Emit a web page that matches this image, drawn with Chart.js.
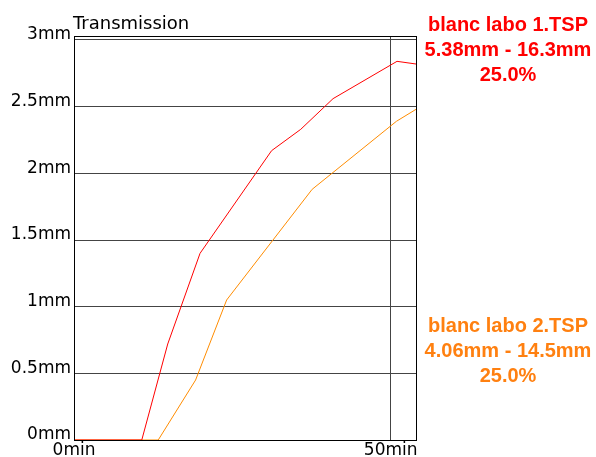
<!DOCTYPE html>
<html>
<head>
<meta charset="utf-8">
<script src="https://cdn.jsdelivr.net/npm/chart.js@4/dist/chart.umd.min.js"></script>
<style>
	html, body { margin: 0; padding: 0; background: #fff; }
	canvas { display: block; }
</style>
</head>
<body>
<canvas id="chart" width="596" height="457"></canvas>
<script>
/*
 * Values: time in minutes, transmission in mm.
 */
const redTimes = [0, 10.7, 14.8, 19.9, 31.2, 35.8, 40.9, 51.0, 54.0];
const redValues = [0, 0, 0.72, 1.40, 2.17, 2.33, 2.56, 2.84, 2.82];
const orangeTimes = [0, 13.3, 19.2, 24.1, 37.6, 50.9, 54.0];
const orangeValues = [0, 0, 0.45, 1.05, 1.88, 2.39, 2.48];

const xTicks = [0, 50];
const yTicks = [0, 0.5, 1, 1.5, 2, 2.5, 3];

const redLegend = ['blanc labo 1.TSP', '5.38mm - 16.3mm', '25.0%'];
const orangeLegend = ['blanc labo 2.TSP', '4.06mm - 14.5mm', '25.0%'];

const chartTitle = 'Transmission';

const RED = '#ff0000';
const ORANGE = '#ff8c00';
const ORANGE_TEXT = '#ff8010';

function points(xs, ys)
{
	return xs.map((x, i) => ({ x: x, y: ys[i] }));
}

/*
 * Frame around the plot, the title and the two text blocks on the right.
 */
const decorations = {
	id: 'decorations',
	afterDraw(chart) {
		const ctx = chart.ctx;
		const area = chart.chartArea;
		ctx.save();
		ctx.strokeStyle = '#000';
		ctx.lineWidth = 1;
		ctx.strokeRect(Math.round(area.left) + 0.5, Math.round(area.top) + 0.5,
			Math.round(area.right - area.left), Math.round(area.bottom - area.top));

		ctx.fillStyle = '#000';
		ctx.font = '18px "DejaVu Sans"';
		ctx.textAlign = 'left';
		ctx.textBaseline = 'alphabetic';
		ctx.fillText(chartTitle, 73, 29);

		ctx.font = 'bold 20px "Liberation Sans"';
		ctx.textAlign = 'center';
		ctx.fillStyle = RED;
		redLegend.forEach((t, i) => ctx.fillText(t, 508, 31 + i * 25));
		ctx.fillStyle = ORANGE_TEXT;
		orangeLegend.forEach((t, i) => ctx.fillText(t, 508, 332 + i * 25));
		ctx.restore();
	}
};

window.addEventListener('load', () => {
	new Chart(document.getElementById('chart'), {
		type: 'line',
		data: {
			datasets: [{
				label: redLegend[0],
				data: points(redTimes, redValues),
				borderColor: RED,
				borderWidth: 1,
				pointRadius: 0,
				tension: 0,
			}, {
				label: orangeLegend[0],
				data: points(orangeTimes, orangeValues),
				borderColor: ORANGE,
				borderWidth: 1,
				pointRadius: 0,
				tension: 0,
			}]
		},
		options: {
			responsive: false,
			animation: false,
			devicePixelRatio: 1,
			layout: {
				padding: { top: 36, right: 180, left: 0, bottom: 0 },
			},
			plugins: {
				legend: { display: false },
				title: { display: false },
				tooltip: { enabled: false },
			},
			scales: {
				x: {
					type: 'linear',
					min: 0,
					max: 54,
					afterBuildTicks: (scale) => {
						scale.ticks = xTicks.map(v => ({ value: v }));
					},
					afterFit: (scale) => { scale.height = 17; },
					ticks: {
						color: '#000',
						padding: 0,
						maxRotation: 0,
						font: { family: 'DejaVu Sans', size: 17 },
						callback: (v) => v + 'min',
					},
					grid: {
						color: '#444',
						drawTicks: false,
					},
					border: { color: '#000' },
				},
				y: {
					min: 0,
					max: 3.03,
					afterBuildTicks: (scale) => {
						scale.ticks = yTicks.map(v => ({ value: v }));
					},
					afterFit: (scale) => { scale.width = 74; },
					ticks: {
						color: '#000',
						padding: 3,
						labelOffset: -5,
						font: { family: 'DejaVu Sans', size: 17 },
						callback: (v) => v + 'mm',
					},
					grid: {
						color: '#444',
						drawTicks: false,
					},
					border: { color: '#000' },
				},
			},
		},
		plugins: [decorations],
	});
});
</script>
</body>
</html>
